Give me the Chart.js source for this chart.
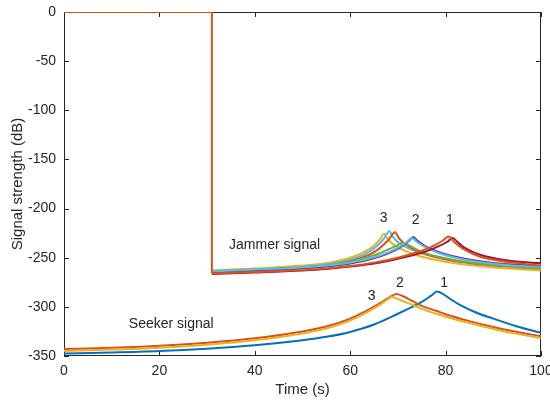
<!DOCTYPE html>
<html>
<head>
<meta charset="utf-8">
<script src="https://cdn.jsdelivr.net/npm/chart.js@4"></script>
<style>
  html, body { margin: 0; padding: 0; background: #fff; }
  #wrap { width: 550px; height: 404px; }
</style>
</head>
<body>
<div id="wrap"><canvas id="c"></canvas></div>
<script>
// --- data: [time (s), signal (dB)] ---
const jamStep = [[0, 0], [31, 0], [31, -266]];

const jamYellow3 = [[31,-263],[40,-261],[50,-258],[55,-255.5],[60,-250],[63,-244],[65,-237.5],[66.3,-231],[67.1,-225.5],
  [68,-232],[69.5,-238],[72,-244],[75,-249],[80,-254],[85,-257.5],[90,-260],[95,-261.5],[100,-263]];
const jamCyan3 = [[31,-264],[40,-262],[50,-259.5],[55,-257],[60,-252],[63,-246.5],[65,-240.5],[67,-231],[68.2,-223],
  [69,-229],[70.5,-236],[73,-242],[76,-247],[80,-251.5],[85,-255],[90,-257],[95,-258.5],[100,-260]];
const jamOrange3 = [[31,-264.5],[40,-262.5],[50,-260],[55,-258],[60,-253.5],[64,-247],[66,-241],[68,-232],[69.4,-224],
  [70.2,-230],[71.5,-236],[74,-243],[77,-248],[80,-251.5],[85,-255.5],[90,-258],[95,-259.5],[100,-261]];
const jamGreen2 = [[31,-264.5],[40,-262.5],[50,-260],[55,-258],[60,-254],[65,-247.5],[68,-241.5],[70,-237],[71,-234.7],
  [72.5,-238],[75,-244],[78,-248.5],[82,-252.5],[86,-255.5],[90,-257.5],[95,-259.5],[100,-261]];
const jamPurple2 = [[31,-265],[40,-263],[50,-261],[55,-259],[60,-256],[65,-250.5],[68,-245.5],[70.5,-239.5],[72.3,-233],[73.2,-229],
  [74.2,-233],[76,-239],[79,-245],[83,-250],[88,-254],[94,-257],[100,-259]];
const jamCyan2 = [[31,-264],[40,-262],[50,-260],[55,-258],[60,-255],[65,-249.5],[68,-244.5],[70.5,-238.5],[72,-233.5],[72.9,-230],
  [74,-234],[76,-240],[79,-246],[83,-251],[88,-255],[94,-258],[100,-259.5]];
const jamOrange1 = [[31,-266],[40,-264.5],[50,-262.5],[55,-261],[60,-258.5],[65,-255],[70,-250],[74,-244.5],[77,-239],[79.3,-233],[80.6,-228.5],
  [81.8,-234],[83.7,-241],[87.2,-249],[90,-252],[95,-255.5],[100,-258]];
const jamRed1 = [[31,-266.5],[40,-265],[50,-263],[55,-261.5],[60,-259],[65,-256],[70,-251],[75,-245],[78,-239.5],[80.3,-234],[81.5,-230],
  [82.5,-234],[83.7,-239],[87.2,-247],[90.7,-251],[94.2,-253.5],[100,-255.7]];

const seekBlue1 = [[0,-347.5],[10,-346.5],[20,-345],[30,-342.5],[40,-339],[50,-334],[55,-330.5],[60,-325.5],[65,-318],[70,-307],
  [73,-300],[75,-295],[77,-288.5],[78.2,-284.5],[79.5,-287],[81,-292],[83,-298],[86,-305],[90,-312],[95,-320],[100,-326.5]];
const seekOrange2 = [[0,-343],[10,-341.5],[20,-339.5],[30,-336.5],[40,-332],[50,-325],[55,-320],[60,-312],[63,-305],[66,-297],[68,-291],
  [69.7,-287],[71,-289],[73,-294],[75,-299],[78,-304],[80,-307.5],[85,-314.5],[90,-320.5],[95,-325.5],[100,-330]];
const seekYellow3 = [[0,-345],[10,-343.5],[20,-341.5],[30,-338.5],[40,-334],[50,-327],[55,-322],[60,-314],[63,-307],[66,-298.5],[68,-292],
  [68.7,-290],[70,-292],[72,-296],[75,-302],[78,-307],[80,-310],[85,-316.5],[90,-322.5],[95,-327.5],[100,-332]];

const xTicks = [0, 20, 40, 60, 80, 100];
const yTicks = [0, -50, -100, -150, -200, -250, -300, -350];

// text labels placed in data coordinates
const notes = [
  { text: 'Jammer signal', x: 34.6, y: -237, align: 'left' },
  { text: 'Seeker signal', x: 13.6, y: -318, align: 'left' },
  { text: '3', x: 67.0, y: -210, align: 'center' },
  { text: '2', x: 73.7, y: -212, align: 'center' },
  { text: '1', x: 80.9, y: -212, align: 'center' },
  { text: '3', x: 64.5, y: -289, align: 'center' },
  { text: '2', x: 70.4, y: -276, align: 'center' },
  { text: '1', x: 79.7, y: -276, align: 'center' },
];

const C = {
  blue: '#0072BD', orange: '#D95319', yellow: '#EDB120', purple: '#7E2F8E',
  green: '#77AC30', cyan: '#4DBEEE', red: '#A2142F',
};
const INK = '#262626';
const FONT = "'Liberation Sans', Arial, Helvetica, sans-serif";

const toXY = arr => arr.map(([x, y]) => ({ x, y }));
const line = (data, color, smooth = true) => ({
  data: toXY(data), borderColor: color, borderWidth: 2, pointRadius: 0,
  fill: false, cubicInterpolationMode: smooth ? 'monotone' : 'default', tension: 0,
});

// MATLAB style box with inward ticks
const frame = {
  id: 'frame',
  beforeDatasetsDraw(chart) {
    const { ctx, chartArea: a, scales: { x, y } } = chart;
    ctx.save();
    ctx.strokeStyle = INK;
    ctx.lineWidth = 1;
    ctx.strokeRect(a.left + 0.5, a.top + 0.5, a.right - a.left - 1, a.bottom - a.top - 1);
    ctx.beginPath();
    const t = 5;
    xTicks.forEach(v => {
      const px = Math.round(x.getPixelForValue(v)) + 0.5;
      ctx.moveTo(px, a.bottom); ctx.lineTo(px, a.bottom - t);
      ctx.moveTo(px, a.top); ctx.lineTo(px, a.top + t);
    });
    yTicks.forEach(v => {
      const py = Math.round(y.getPixelForValue(v)) + 0.5;
      ctx.moveTo(a.left, py); ctx.lineTo(a.left + t, py);
      ctx.moveTo(a.right, py); ctx.lineTo(a.right - t, py);
    });
    ctx.stroke();
    ctx.restore();
  },
  afterDatasetsDraw(chart) {
    const { ctx, scales: { x, y } } = chart;
    ctx.save();
    ctx.fillStyle = INK;
    ctx.font = '14px ' + FONT;
    ctx.textBaseline = 'middle';
    notes.forEach(n => {
      ctx.textAlign = n.align;
      ctx.fillText(n.text, x.getPixelForValue(n.x), y.getPixelForValue(n.y));
    });
    ctx.restore();
  },
};

new Chart(document.getElementById('c'), {
  type: 'line',
  data: {
    datasets: [
      line(jamStep, C.orange, false),
      line(jamOrange1, C.orange),
      line(jamRed1, C.red),
      line(jamCyan2, C.cyan),
      line(jamPurple2, C.purple),
      line(jamGreen2, C.green),
      line(jamOrange3, C.orange),
      line(jamCyan3, C.cyan),
      line(jamYellow3, C.yellow),
      line(seekYellow3, C.yellow),
      line(seekOrange2, C.orange),
      line(seekBlue1, C.blue),
    ],
  },
  options: {
    responsive: true, maintainAspectRatio: false, animation: false,
    layout: { padding: { left: 0, right: 9, top: 12, bottom: 0 } },
    plugins: { legend: { display: false }, tooltip: { enabled: false } },
    scales: {
      x: {
        type: 'linear', min: 0, max: 100,
        afterBuildTicks: s => { s.ticks = xTicks.map(v => ({ value: v })); },
        afterFit: s => { s.height = 48; s.paddingLeft = 0; s.paddingRight = 0; },
        grid: { display: false, drawTicks: false },
        border: { display: false },
        ticks: { color: INK, font: { family: FONT, size: 14 }, padding: 7, maxRotation: 0 },
        title: { display: true, text: 'Time (s)', color: INK, font: { family: FONT, size: 15 }, padding: { top: 0, bottom: 5 } },
      },
      y: {
        type: 'linear', min: -350, max: 0,
        afterBuildTicks: s => { s.ticks = yTicks.map(v => ({ value: v })); },
        afterFit: s => { s.width = 64; s.paddingTop = 0; s.paddingBottom = 0; },
        grid: { display: false, drawTicks: false },
        border: { display: false },
        ticks: { color: INK, font: { family: FONT, size: 14 }, padding: 8 },
        title: { display: true, text: 'Signal strength (dB)', color: INK, font: { family: FONT, size: 15 }, padding: { top: 9, bottom: 0 } },
      },
    },
  },
  plugins: [frame],
});
</script>
</body>
</html>
